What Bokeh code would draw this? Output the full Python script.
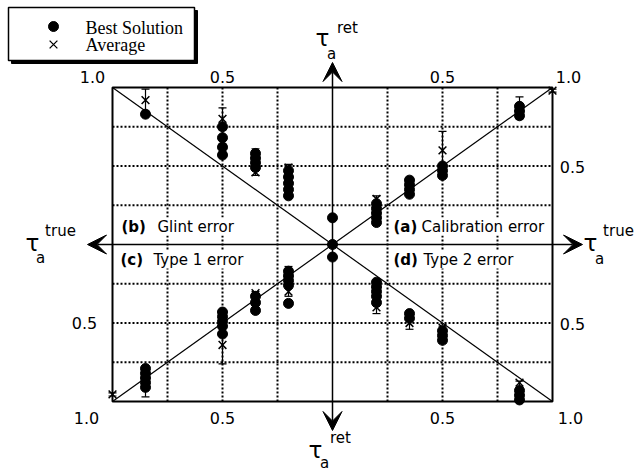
from bokeh.plotting import figure
from bokeh.models import ColumnDataSource, Whisker, TeeHead, Arrow, VeeHead, Label
from bokeh.embed import file_html
from bokeh.resources import INLINE
from bokeh.core.properties import value

# ---------------------------------------------------------------------------
# Retrieved vs. true aerosol optical depth, one error type per quadrant.
# Quadrant signs: (a) +x +y, (b) -x +y, (c) -x -y, (d) +x -y
# ---------------------------------------------------------------------------

# (a) Calibration error
a_best_true = [0.0, 0.0, 0.2, 0.2, 0.2, 0.2, 0.2, 0.35, 0.35, 0.35, 0.35, 0.5, 0.5, 0.5, 0.85, 0.85, 0.85]
a_best_ret = [0.0, 0.17, 0.14, 0.17, 0.20, 0.23, 0.26, 0.32, 0.35, 0.38, 0.41, 0.44, 0.47, 0.50, 0.82, 0.85, 0.88]
a_avg_true = [0.2, 0.35, 0.5, 0.85, 1.0]
a_avg_ret = [0.29, 0.37, 0.60, 0.87, 0.98]
a_err_lo = [0.26, 0.33, 0.48, 0.80, 0.97]
a_err_hi = [0.31, 0.41, 0.72, 0.94, 0.99]

# (b) Glint error
b_best_true = [0.2, 0.2, 0.2, 0.2, 0.2, 0.35, 0.35, 0.35, 0.35, 0.5, 0.5, 0.5, 0.5, 0.85]
b_best_ret = [0.31, 0.35, 0.39, 0.43, 0.47, 0.49, 0.52, 0.55, 0.58, 0.57, 0.62, 0.68, 0.75, 0.83]
b_avg_true = [0.2, 0.35, 0.5, 0.5, 0.85]
b_avg_ret = [0.49, 0.46, 0.80, 0.61, 0.92]
b_err_lo = [0.46, 0.44, 0.73, 0.58, 0.85]
b_err_hi = [0.51, 0.61, 0.87, 0.64, 0.99]

# (c) Type 1 error
c_best_true = [0.2, 0.2, 0.2, 0.2, 0.2, 0.35, 0.35, 0.35, 0.5, 0.5, 0.5, 0.5, 0.5, 0.85, 0.85, 0.85, 0.85, 0.85]
c_best_ret = [0.17, 0.20, 0.23, 0.26, 0.375, 0.33, 0.37, 0.42, 0.43, 0.46, 0.49, 0.52, 0.57, 0.79, 0.82, 0.85, 0.88, 0.91]
c_avg_true = [0.2, 0.35, 0.5, 0.85, 1.0]
c_avg_ret = [0.30, 0.31, 0.64, 0.88, 0.955]
c_err_lo = [0.14, 0.30, 0.52, 0.80, 0.945]
c_err_hi = [0.33, 0.36, 0.76, 0.97, 0.965]

# (d) Type 2 error
d_best_true = [0.0, 0.2, 0.2, 0.2, 0.2, 0.2, 0.35, 0.35, 0.5, 0.5, 0.5, 0.85, 0.85, 0.85]
d_best_ret = [0.08, 0.24, 0.27, 0.30, 0.33, 0.37, 0.44, 0.47, 0.55, 0.58, 0.61, 0.93, 0.96, 0.99]
d_avg_true = [0.2, 0.35, 0.5, 0.85]
d_avg_ret = [0.40, 0.50, 0.53, 0.88]
d_err_lo = [0.36, 0.44, 0.52, 0.87]
d_err_hi = [0.44, 0.54, 0.63, 0.99]

# 1:1 reference line and dotted grid
one_to_one = [0.0, 1.0]
grid_vals = [-0.75, -0.5, -0.25, 0.25, 0.5, 0.75]

# tick labels
x_tick_vals = [-1.0, -0.5, 0.5, 1.0]
right_tick_vals = [0.5, -0.5]
left_tick_vals = [-0.5]

quadrants = [
    ((1, 1), a_best_true, a_best_ret, a_avg_true, a_avg_ret, a_err_lo, a_err_hi),
    ((-1, 1), b_best_true, b_best_ret, b_avg_true, b_avg_ret, b_err_lo, b_err_hi),
    ((-1, -1), c_best_true, c_best_ret, c_avg_true, c_avg_ret, c_err_lo, c_err_hi),
    ((1, -1), d_best_true, d_best_ret, d_avg_true, d_avg_ret, d_err_lo, d_err_hi),
]

# ---------------------------------------------------------------------------
W, H = 636, 472
CX, CY = 332, 244      # centre of the frame, pixels
SX, SY = 220, 157      # pixels per unit optical depth
INK = "black"


def px(x):
    return (x - CX) / SX


def py(y):
    return (CY - y) / SY


p = figure(width=W, height=H, x_range=(px(0), px(W)), y_range=(py(H), py(0)),
           output_backend="svg", toolbar_location=None, min_border=0,
           x_axis_location=None, y_axis_location=None)
p.grid.visible = False
p.outline_line_color = None
p.background_fill_color = "white"

# dotted grid inside the box
for g in grid_vals:
    p.segment(x0=g, y0=-1, x1=g, y1=1, line_color=INK, line_width=2, line_dash="2 2")
    p.segment(x0=-1, y0=g, x1=1, y1=g, line_color=INK, line_width=2, line_dash="2 2")

# 1:1 lines in every quadrant
for (sx, sy), *_ in quadrants:
    p.line([sx * t for t in one_to_one], [sy * t for t in one_to_one], line_color=INK, line_width=1.2)

# frame
p.quad(left=-1, right=1, bottom=-1, top=1, fill_color=None, line_color=INK, line_width=2)

# central axes with arrowheads
ends = [(px(87), 0), (px(582), 0), (0, py(62)), (0, py(430))]
for xe, ye in ends:
    p.add_layout(Arrow(x_start=0, y_start=0, x_end=xe, y_end=ye, line_color=INK, line_width=1.5,
                       end=VeeHead(size=19, fill_color=INK, line_color=INK, line_width=1)))

# data
best_x, best_y = [], []
avg_x, avg_y, lo, hi = [], [], [], []
for (sx, sy), bt, br, at, ar, el, eh in quadrants:
    best_x += [sx * v for v in bt]
    best_y += [sy * v for v in br]
    avg_x += [sx * v for v in at]
    avg_y += [sy * v for v in ar]
    lo += [sy * v for v in el]
    hi += [sy * v for v in eh]

err_src = ColumnDataSource(dict(x=avg_x, lo=lo, hi=hi))
p.add_layout(Whisker(base="x", lower="lo", upper="hi", source=err_src, dimension="height",
                     line_color=INK, line_width=1.2,
                     lower_head=TeeHead(size=8, line_color=INK, line_width=1.2),
                     upper_head=TeeHead(size=8, line_color=INK, line_width=1.2)))
p.scatter(avg_x, avg_y, marker="x", size=11, line_color=INK, line_width=1.5)
p.scatter(best_x, best_y, marker="circle", size=10, fill_color=INK, line_color=INK)

# tick labels
tick_font = value("DejaVu Sans")
tick_txt = [f"{abs(v):.1f}" for v in x_tick_vals]
common = dict(text_font=tick_font, text_font_size="16px", text_color=INK,
              text_align="center", text_baseline="middle")
p.text(x=x_tick_vals, y=[1] * 4, text=tick_txt, x_offset=[-20, 0, 0, 16], y_offset=-11, **common)
p.text(x=x_tick_vals, y=[-1] * 4, text=tick_txt, x_offset=[-26, 0, 0, 18], y_offset=16, **common)
p.text(x=[1] * len(right_tick_vals), y=right_tick_vals, text=[f"{abs(v):.1f}" for v in right_tick_vals],
       x_offset=20, y_offset=1, **common)
p.text(x=[-1] * len(left_tick_vals), y=left_tick_vals, text=[f"{abs(v):.1f}" for v in left_tick_vals],
       x_offset=-28, **common)


# axis titles: tau_a^ret (vertical), tau_a^true (horizontal)
def tau_label(tx, ty, sup, sup_xy, sub_xy):
    kw = dict(text_font=tick_font, text_color=INK, text_align="center", text_baseline="middle")
    p.text(x=[px(tx)], y=[py(ty)], text=["τ"], text_font_size="23px", **kw)
    p.text(x=[px(sup_xy[0])], y=[py(sup_xy[1])], text=[sup], text_font_size="15px", **kw)
    p.text(x=[px(sub_xy[0])], y=[py(sub_xy[1])], text=["a"], text_font_size="15px", **kw)


tau_label(322, 37, "ret", (347, 27), (331, 53))
tau_label(315, 449, "ret", (340, 437), (324, 462))
tau_label(590, 242, "true", (618, 230), (599, 258))
tau_label(32, 242, "true", (60, 230), (40, 257))

# quadrant titles
for tag, name, x_tag, x_name, y in [("(b)", "Glint error", 121, 157, 226),
                                    ("(a)", "Calibration error", 393, 421, 226),
                                    ("(c)", "Type 1 error", 120, 153, 259),
                                    ("(d)", "Type 2 error", 393, 423, 259)]:
    p.add_layout(Label(x=px(x_tag), y=py(y), text=tag, text_font="DejaVu Sans", text_font_size="15px",
                       text_font_style="bold", text_color=INK, text_baseline="middle", text_align="left",
                       background_fill_color="white"))
    p.add_layout(Label(x=px(x_name), y=py(y), text=name, text_font="DejaVu Sans", text_font_size="15px",
                       text_color=INK, text_baseline="middle", text_align="left",
                       background_fill_color="white"))

# legend box with drop shadow
p.quad(left=px(11), right=px(197), top=py(10), bottom=py(63), fill_color=INK, line_color=INK)
p.quad(left=px(8), right=px(194), top=py(7), bottom=py(60), fill_color="white", line_color=INK,
       line_width=1.5)
p.scatter([px(53)], [py(26)], marker="circle", size=10, fill_color=INK, line_color=INK)
p.scatter([px(53)], [py(44)], marker="x", size=11, line_color=INK, line_width=1.3)
p.text(x=[px(85), px(85)], y=[py(27), py(44)], text=["Best Solution", "Average"],
       text_font=value("Liberation Serif"), text_font_size="18px", text_color=INK,
       text_baseline="middle", text_align="left")

open("out.html", "w").write(file_html(p, INLINE))
